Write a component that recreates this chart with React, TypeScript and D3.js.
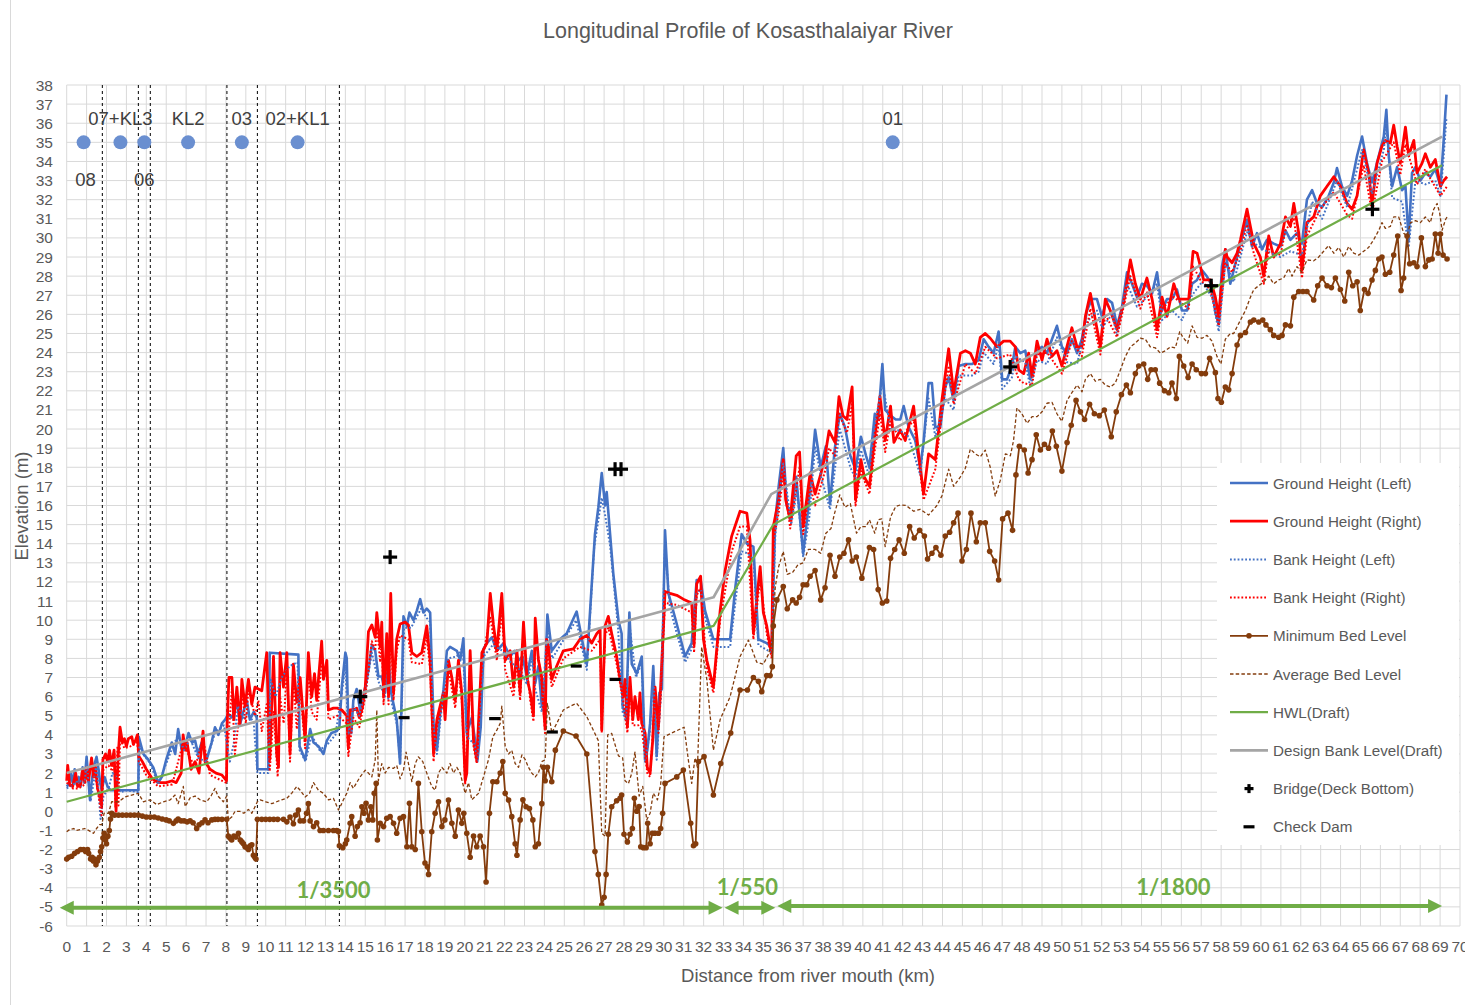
import React from "react";
import * as d3 from "d3";

type Pt = [number, number];

// chainage (km) / elevation (m) pairs
const groundLeft: Pt[] = [
  [0,1.3],[0.1,1.4],[0.2,2.0],[0.3,1.5],[0.4,2.2],[0.5,1.4],[0.6,1.8],[0.7,1.3],[0.8,2.3],[0.9,1.6],[1.0,2.85],[1.08,1.8],[1.17,0.6],[1.25,1.5],[1.35,2.3],[1.5,2.85],[1.6,2.2],[1.68,1.5],[1.76,1.1],[1.9,1.8],[2.05,1.3],[2.2,1.1],[3.6,1.1],[3.62,3.9],[3.85,3.0],[4.1,2.7],[4.35,2.3],[4.6,1.5],[4.78,1.8],[5.0,2.7],[5.28,3.6],[5.45,3.0],[5.6,4.3],[5.78,3.2],[5.95,3.4],[6.12,4.1],[6.3,3.6],[6.45,3.7],[6.6,3.0],[6.78,3.6],[7.03,2.7],[7.28,3.6],[7.45,4.4],[7.62,4.0],[7.8,4.6],[7.96,4.8],[8.12,5.1],[8.3,4.9],[8.55,5.65],[8.72,4.6],[8.9,5.3],[9.05,5.8],[9.2,4.8],[9.4,5.2],[9.55,4.9],[9.58,2.2],[10.13,2.2],[10.2,8.3],[11.64,8.2],[11.7,3.4],[11.98,2.7],[12.23,4.3],[12.4,3.6],[12.65,3.4],[12.9,3.0],[13.07,3.7],[13.3,4.1],[13.57,4.2],[13.7,4.4],[13.82,6.5],[14.0,8.3],[14.07,8.0],[14.15,4.3],[14.3,4.1],[14.4,5.8],[14.57,6.4],[14.74,5.3],[15.0,6.5],[15.16,7.4],[15.33,8.7],[15.5,8.4],[15.66,7.05],[15.83,7.05],[16.0,6.2],[16.17,7.9],[16.3,6.2],[16.58,4.8],[16.75,2.5],[16.92,10.2],[17.09,9.7],[17.22,10.4],[17.42,10.0],[17.59,10.5],[17.76,11.1],[17.92,10.4],[18.09,10.6],[18.26,10.4],[18.43,4.6],[18.6,3.2],[18.76,5.1],[18.93,6.35],[19.1,8.4],[19.26,8.6],[19.6,8.4],[19.77,7.9],[19.93,9.05],[20.1,4.1],[20.35,4.9],[20.52,3.7],[20.64,2.7],[20.8,4.4],[20.94,8.5],[21.11,8.8],[21.36,9.1],[21.61,8.4],[21.95,8.8],[22.28,8.1],[22.5,8.4],[22.7,7.9],[22.9,8.1],[23.12,7.05],[23.37,8.4],[23.54,6.7],[23.7,7.6],[23.87,5.5],[24.04,7.05],[24.15,10.3],[24.37,8.4],[24.79,9.0],[25.12,9.3],[25.62,10.45],[26.13,7.7],[26.38,11.9],[26.54,14.5],[26.71,15.9],[26.88,17.7],[27.05,16.0],[27.13,16.7],[27.3,14.5],[27.46,12.45],[27.72,10.0],[27.88,9.3],[27.93,5.5],[28.1,4.95],[28.27,10.4],[28.39,7.7],[28.64,7.2],[28.89,8.1],[29.06,2.7],[29.17,3.2],[29.31,4.6],[29.47,7.6],[29.64,2.9],[29.78,6.2],[29.9,6.4],[30.06,14.7],[30.23,11.4],[30.65,9.8],[31.07,8.1],[31.4,8.8],[31.65,12.1],[31.85,12.1],[32.07,10.5],[32.49,9.0],[33.33,9.0],[33.58,11.6],[33.91,14.5],[34.17,14.0],[34.5,13.85],[34.75,9.0],[35.17,8.8],[35.42,8.6],[35.59,15.1],[35.77,17.0],[36.0,19.0],[36.18,16.0],[36.39,15.4],[36.65,17.5],[37.0,13.5],[37.26,15.9],[37.6,19.96],[37.88,18.0],[38.14,19.1],[38.35,16.1],[38.58,18.9],[38.84,20.8],[39.1,20.1],[39.37,18.6],[39.63,17.9],[39.9,19.6],[40.16,18.6],[40.33,18.0],[40.6,20.8],[40.77,20.5],[40.98,23.4],[41.12,21.0],[41.39,20.7],[41.65,20.5],[41.88,20.5],[42.05,21.2],[42.3,20.1],[42.63,19.4],[42.88,18.0],[43.05,19.3],[43.3,22.4],[43.47,22.4],[43.64,20.1],[43.89,20.1],[44.14,22.2],[44.31,22.7],[44.56,21.5],[44.81,23.3],[45.15,23.4],[45.48,23.4],[45.82,23.6],[46.07,24.7],[46.32,24.3],[46.57,23.97],[46.82,25.1],[47.0,22.6],[47.24,22.6],[47.49,23.3],[47.66,24.3],[47.91,23.97],[48.16,24.1],[48.41,22.6],[48.75,24.1],[49.0,24.3],[49.25,23.97],[49.5,24.7],[49.75,25.4],[50.0,24.3],[50.25,23.97],[50.5,24.7],[50.76,23.97],[51.0,24.7],[51.26,26.2],[51.51,26.8],[51.76,26.8],[52.01,25.9],[52.27,26.8],[52.52,26.6],[52.77,25.4],[53.02,26.4],[53.27,28.2],[53.52,27.6],[53.77,26.9],[54.02,27.6],[54.27,27.5],[54.53,27.1],[54.78,28.2],[55.03,26.2],[55.28,26.8],[55.53,26.8],[55.78,27.3],[56.03,26.2],[56.29,26.2],[56.54,27.6],[56.79,27.8],[57.04,28.3],[57.29,27.98],[57.54,27.5],[57.71,26.1],[57.88,25.5],[58.04,28.5],[58.21,29.4],[58.46,27.6],[58.63,28.3],[58.97,29.7],[59.3,30.95],[59.55,29.55],[59.8,30.25],[60.05,29.4],[60.3,29.9],[60.64,29.7],[60.98,29.55],[61.23,30.4],[61.48,29.9],[61.81,30.25],[62.06,29.7],[62.31,32.0],[62.57,32.5],[62.82,31.8],[63.07,31.6],[63.4,32.2],[63.66,32.9],[63.82,33.65],[64.07,32.7],[64.33,32.2],[64.58,33.0],[64.83,34.3],[65.08,35.3],[65.33,33.9],[65.58,32.9],[65.92,34.3],[66.17,35.3],[66.3,36.7],[66.42,34.3],[66.59,32.7],[66.84,33.7],[67.09,32.5],[67.26,32.7],[67.42,29.9],[67.59,33.4],[67.76,33.7],[68.01,33.0],[68.26,33.4],[68.51,33.2],[68.76,33.6],[69.02,32.7],[69.18,35.1],[69.32,37.5],
];

const groundRight: Pt[] = [
  [0,1.6],[0.05,2.4],[0.15,1.4],[0.3,1.3],[0.45,2.0],[0.55,1.3],[0.7,1.4],[0.8,2.2],[0.9,1.5],[1.0,2.3],[1.1,1.6],[1.25,2.8],[1.35,1.8],[1.45,2.3],[1.55,1.2],[1.65,0.8],[1.75,0.3],[1.82,2.7],[1.95,3.0],[2.05,2.6],[2.15,3.2],[2.25,2.4],[2.38,3.2],[2.48,0.0],[2.58,2.8],[2.68,4.4],[2.8,3.6],[2.9,3.8],[3.0,3.4],[3.1,3.8],[3.27,3.9],[3.35,3.5],[3.45,3.7],[3.55,4.0],[3.62,2.9],[3.8,2.6],[4.0,2.2],[4.3,1.7],[4.6,1.5],[5.0,1.5],[5.3,1.6],[5.5,1.5],[5.75,2.0],[5.85,4.0],[5.95,3.2],[6.05,3.6],[6.25,2.2],[6.45,2.6],[6.65,2.0],[6.85,4.2],[6.95,2.6],[7.2,2.2],[7.5,2.0],[7.8,1.9],[8.03,1.6],
  [8.06,4.5],[8.15,7.0],[8.3,7.0],[8.4,4.8],[8.55,6.5],[8.7,4.5],[8.8,6.9],[8.96,5.5],[9.13,6.9],[9.3,5.6],[9.46,6.5],[9.63,6.4],[9.8,6.3],[10.05,8.3],[10.2,2.7],[10.39,8.1],[10.55,3.0],[10.64,2.3],[10.72,8.3],[10.89,6.5],[11.06,8.3],[11.22,3.0],[11.39,7.7],[11.56,5.7],[11.73,7.0],[11.98,3.7],[12.14,8.3],[12.31,6.0],[12.45,7.2],[12.56,5.8],[12.81,8.9],[12.9,6.9],[13.07,7.9],[13.15,5.3],[13.4,5.4],[13.6,5.4],[13.82,5.3],[14.07,5.0],[14.15,3.3],[14.24,5.3],[14.4,5.3],[14.57,5.4],[14.7,4.9],[14.85,5.4],
  [15.0,6.5],[15.16,9.4],[15.33,9.75],[15.5,9.1],[15.58,10.4],[15.75,8.6],[15.83,9.9],[15.92,6.0],[16.08,9.3],[16.17,6.0],[16.28,11.4],[16.42,6.2],[16.58,9.0],[16.75,9.8],[17.0,9.9],[17.17,9.75],[17.34,8.3],[17.59,8.1],[17.84,8.3],[18.09,9.7],[18.26,7.9],[18.43,3.0],[18.6,4.8],[18.76,5.5],[18.93,6.2],[19.01,4.8],[19.18,7.9],[19.35,7.0],[19.52,5.8],[19.68,7.9],[19.85,6.2],[20.02,1.6],[20.1,2.0],[20.27,8.4],[20.44,3.7],[20.6,2.7],[20.86,8.3],[21.11,8.8],[21.28,11.4],[21.44,9.75],[21.61,8.4],[21.86,11.4],[22.03,7.9],[22.28,8.4],[22.45,6.5],[22.62,8.4],[22.78,6.2],[22.95,9.9],[23.12,7.0],[23.29,6.2],[23.45,5.0],[23.54,10.1],[23.7,7.9],[23.87,7.0],[23.95,5.5],[24.04,4.3],[24.11,9.0],[24.21,8.6],[24.37,6.9],[24.62,7.6],[24.95,8.4],[25.46,8.5],[25.79,9.0],[26.13,9.2],[26.38,8.8],[26.63,9.3],[26.8,9.5],[26.88,4.25],[27.05,9.7],[27.21,10.2],[27.38,9.3],[27.63,8.1],[27.8,6.9],[27.97,6.0],[28.05,6.9],[28.17,4.4],[28.3,7.0],[28.44,4.8],[28.55,6.0],[28.72,4.8],[28.8,6.2],[28.89,4.6],[29.06,4.1],[29.17,2.3],[29.31,2.0],[29.44,3.7],[29.56,6.5],[29.73,4.4],[29.84,6.5],[30.06,11.5],[30.31,11.4],[30.65,11.3],[30.98,11.1],[31.4,10.9],[31.52,8.7],[31.65,11.9],[31.85,12.3],[31.99,9.0],[32.16,7.9],[32.49,6.5],[32.83,10.5],[33.08,12.6],[33.41,14.4],[33.83,15.7],[34.17,15.6],[34.33,14.2],[34.5,9.3],[34.67,11.1],[34.84,12.8],[35.0,10.4],[35.17,9.7],[35.34,8.6],[35.42,8.3],
  [35.5,14.9],[35.77,16.3],[36.0,18.4],[36.12,16.3],[36.35,15.25],[36.65,18.6],[36.82,18.8],[37.0,14.9],[37.35,17.7],[37.6,16.6],[37.9,17.7],[38.1,18.6],[38.3,19.9],[38.6,19.3],[38.8,21.7],[39.0,20.7],[39.2,20.5],[39.46,22.2],[39.63,16.3],[39.9,18.4],[40.07,17.5],[40.33,17.0],[40.6,19.6],[40.86,21.7],[41.12,19.4],[41.39,21.2],[41.56,19.3],[41.88,19.95],[42.13,19.4],[42.55,21.2],[42.8,18.7],[43.05,16.6],[43.3,18.7],[43.64,18.4],[43.97,21.5],[44.31,24.2],[44.56,21.9],[44.9,23.97],[45.15,24.1],[45.4,23.97],[45.65,23.4],[45.9,24.8],[46.15,25.0],[46.4,24.75],[46.74,24.3],[47.07,24.6],[47.4,24.6],[47.66,24.3],[47.83,23.1],[48.08,22.9],[48.33,23.97],[48.5,22.75],[48.75,24.6],[49.0,23.6],[49.25,24.7],[49.5,23.8],[49.75,24.1],[50.0,23.3],[50.25,24.3],[50.5,25.3],[50.76,24.3],[51.0,24.3],[51.18,25.9],[51.43,27.1],[51.68,25.7],[51.93,24.3],[52.18,26.8],[52.43,26.2],[52.77,25.2],[53.1,26.6],[53.44,28.85],[53.69,27.6],[53.94,26.8],[54.27,27.9],[54.53,26.8],[54.78,25.2],[55.03,26.9],[55.28,25.9],[55.62,27.6],[55.87,26.8],[56.12,26.8],[56.37,26.8],[56.59,29.3],[56.79,29.2],[56.96,28.5],[57.12,27.8],[57.46,27.8],[57.71,26.9],[57.88,25.9],[58.04,27.8],[58.21,29.4],[58.3,29.0],[58.55,28.7],[58.8,29.2],[58.97,29.9],[59.3,31.5],[59.47,30.6],[59.64,29.7],[59.97,29.0],[60.14,28.0],[60.39,30.1],[60.64,29.0],[60.98,29.7],[61.23,31.1],[61.48,30.6],[61.65,31.8],[61.9,30.25],[62.06,28.3],[62.31,30.8],[62.65,31.1],[62.98,32.2],[63.32,32.7],[63.66,33.2],[63.99,32.7],[64.33,31.8],[64.58,31.5],[64.83,32.2],[65.16,34.6],[65.41,33.4],[65.58,31.8],[65.83,33.9],[66.08,34.8],[66.25,35.1],[66.5,34.96],[66.67,35.9],[66.84,34.8],[67.0,33.9],[67.26,35.8],[67.42,34.3],[67.68,35.1],[67.84,33.4],[68.09,33.9],[68.26,34.4],[68.51,33.7],[68.76,34.1],[69.02,32.7],[69.18,33.0],[69.35,33.2],
];

const bankLeft: Pt[] = [
  [0,1.2],[0.3,1.4],[0.6,1.6],[0.9,1.5],[1.0,2.5],[1.2,0.5],[1.5,2.5],[1.7,-0.4],[1.85,0.8],[2.1,1.2],[2.3,2.0],[2.5,1.8],[2.7,1.0],[3.0,1.1],[3.6,1.0],[3.65,3.4],[3.9,2.9],[4.2,2.5],[4.6,1.4],[5.0,2.5],[5.3,3.3],[5.6,4.0],[5.9,3.2],[6.2,3.8],[6.6,2.8],[7.0,2.6],[7.45,4.1],[7.9,4.5],[8.2,2.6],[8.4,3.6],[8.6,5.5],[8.9,4.8],[9.1,5.2],[9.4,4.6],[9.58,2.0],[10.13,2.0],[10.25,6.9],[10.5,6.0],[10.8,7.0],[11.2,7.6],[11.6,7.8],[11.7,3.2],[12.0,2.6],[12.3,4.0],[12.7,3.2],[13.1,3.5],[13.5,4.0],[13.8,6.0],[14.0,7.6],[14.15,4.0],[14.4,5.5],[14.7,5.0],[15.0,6.2],[15.33,8.3],[15.66,6.8],[16.0,6.0],[16.3,5.8],[16.6,4.5],[16.75,2.6],[16.95,9.6],[17.3,9.6],[17.6,10.2],[17.8,10.6],[18.1,10.1],[18.26,9.9],[18.43,4.4],[18.6,3.0],[18.9,6.0],[19.15,8.0],[19.6,8.1],[19.9,8.6],[20.1,3.9],[20.5,3.5],[20.64,2.6],[20.95,8.1],[21.4,8.7],[21.9,8.4],[22.3,7.8],[22.7,7.5],[23.1,6.7],[23.4,8.0],[23.54,6.4],[23.87,5.2],[24.15,9.6],[24.4,8.0],[24.8,8.7],[25.6,10.0],[26.13,7.4],[26.5,13.8],[26.88,16.4],[27.05,15.5],[27.3,13.9],[27.7,9.6],[27.93,5.2],[28.1,4.7],[28.27,9.8],[28.6,7.0],[28.89,7.8],[29.06,2.5],[29.3,4.2],[29.47,7.2],[29.64,2.7],[29.85,6.0],[30.06,14.0],[30.3,10.7],[30.65,9.3],[31.07,7.8],[31.4,8.5],[31.65,11.4],[31.85,11.6],[32.1,10.0],[32.5,8.6],[33.33,8.6],[33.6,11.0],[33.91,13.6],[34.2,13.5],[34.5,13.2],[34.75,8.7],[35.42,8.3],[35.6,14.4],[35.8,16.4],[36.0,18.2],[36.4,15.0],[36.7,16.8],[37.0,13.3],[37.3,15.3],[37.6,19.1],[37.9,17.5],[38.35,15.8],[38.84,20.0],[39.37,18.0],[39.63,17.4],[39.9,18.9],[40.3,17.6],[40.6,20.2],[40.98,22.4],[41.4,20.0],[41.9,19.9],[42.3,19.6],[42.88,17.6],[43.3,21.6],[43.64,19.6],[44.14,21.6],[44.56,21.0],[44.81,22.8],[45.48,22.8],[45.82,23.0],[46.07,24.0],[46.57,23.4],[46.82,24.5],[47.0,22.1],[47.49,22.7],[47.66,23.8],[48.16,23.5],[48.41,22.2],[48.75,23.6],[49.25,23.4],[49.75,24.8],[50.25,23.5],[50.76,23.4],[51.26,25.6],[51.76,26.2],[52.01,25.3],[52.52,26.0],[52.77,24.9],[53.27,27.6],[53.77,26.4],[54.27,26.9],[54.78,27.6],[55.03,25.7],[55.53,26.2],[56.03,25.7],[56.54,27.0],[57.04,27.7],[57.54,26.9],[57.88,25.1],[58.21,28.7],[58.63,27.7],[59.3,30.3],[59.8,29.6],[60.3,29.3],[60.98,29.0],[61.48,29.3],[62.06,29.1],[62.57,31.9],[63.07,31.0],[63.82,33.0],[64.33,31.6],[64.83,33.6],[65.08,34.6],[65.58,32.3],[66.17,34.6],[66.3,35.8],[66.59,32.1],[67.09,31.9],[67.42,29.5],[67.76,33.0],[68.26,32.8],[68.76,33.0],[69.02,32.2],[69.18,34.3],[69.32,36.3],
];

const bankRight: Pt[] = [
  [0,1.5],[0.3,1.2],[0.6,1.2],[0.9,1.4],[1.25,2.5],[1.5,1.5],[1.65,0.5],[1.75,-0.2],[1.85,2.2],[2.1,2.4],[2.3,2.1],[2.4,3.0],[2.45,0.2],[2.55,3.4],[2.6,0.3],[2.68,3.8],[2.9,3.3],[3.2,3.4],[3.55,3.6],[3.62,2.6],[4.0,1.9],[4.6,1.3],[5.3,1.4],[5.85,3.6],[6.05,3.1],[6.45,2.3],[6.85,3.8],[7.2,1.9],[8.0,1.5],[8.1,3.5],[8.3,6.4],[8.45,3.0],[8.8,6.2],[9.0,4.6],[9.13,6.4],[9.46,5.0],[9.63,5.8],[9.8,4.2],[10.05,5.6],[10.2,2.1],[10.4,5.2],[10.6,1.8],[10.72,6.0],[10.9,4.6],[11.06,7.4],[11.22,2.6],[11.39,7.0],[11.56,4.3],[11.73,6.4],[11.98,3.3],[12.14,7.6],[12.31,5.2],[12.56,4.8],[12.81,7.8],[13.07,7.0],[13.15,4.8],[13.6,5.0],[14.07,4.6],[14.15,2.9],[14.4,4.9],[14.7,4.4],[15.0,6.0],[15.33,8.9],[15.5,8.4],[15.58,9.8],[15.75,7.8],[15.83,9.2],[15.92,5.6],[16.08,8.5],[16.17,5.6],[16.28,10.0],[16.42,5.8],[16.58,8.4],[16.75,9.2],[17.17,9.0],[17.34,7.8],[17.84,7.7],[18.09,9.1],[18.26,7.4],[18.43,2.6],[18.6,4.4],[18.93,5.8],[19.18,7.4],[19.52,5.4],[19.68,7.4],[19.85,5.8],[20.02,1.4],[20.27,7.8],[20.44,3.4],[20.6,2.5],[20.86,7.8],[21.28,10.2],[21.61,7.9],[21.86,10.5],[22.03,7.4],[22.45,6.0],[22.62,7.8],[22.78,5.8],[22.95,9.2],[23.29,5.8],[23.45,4.7],[23.54,9.4],[23.87,6.6],[24.04,4.0],[24.11,8.5],[24.37,6.5],[24.95,8.0],[25.79,8.6],[26.38,8.4],[26.8,9.0],[26.88,4.1],[27.05,9.2],[27.21,9.6],[27.63,7.7],[27.97,5.7],[28.17,4.1],[28.3,6.6],[28.44,4.5],[28.72,4.5],[28.89,4.3],[29.17,2.0],[29.31,1.8],[29.56,6.0],[29.73,4.1],[29.84,6.1],[30.06,10.9],[30.65,10.8],[31.4,10.4],[31.52,8.3],[31.65,11.3],[31.85,11.7],[32.16,7.5],[32.49,6.2],[32.83,10.0],[33.41,13.6],[33.83,14.9],[34.17,14.9],[34.5,9.0],[34.84,12.2],[35.17,9.3],[35.42,8.0],[35.5,14.2],[35.77,15.6],[36.0,17.6],[36.35,14.8],[36.82,18.0],[37.0,14.5],[37.35,17.0],[37.6,16.0],[38.1,17.8],[38.3,19.0],[38.6,18.6],[38.8,20.8],[39.2,19.8],[39.46,21.3],[39.63,16.0],[39.9,17.8],[40.33,16.6],[40.6,18.9],[40.86,20.8],[41.12,18.8],[41.39,20.4],[41.88,19.4],[42.55,20.5],[43.05,16.3],[43.64,17.9],[43.97,20.8],[44.31,23.3],[44.56,21.3],[45.15,23.4],[45.65,22.9],[46.15,24.3],[46.74,23.7],[47.4,23.9],[47.83,22.6],[48.08,22.4],[48.5,22.3],[48.75,23.9],[49.25,24.0],[50.0,22.9],[50.5,24.6],[51.0,23.8],[51.43,26.3],[51.93,23.9],[52.18,26.0],[52.77,24.8],[53.44,28.0],[53.94,26.3],[54.27,27.2],[54.78,24.8],[55.03,26.3],[55.62,26.9],[56.37,26.3],[56.59,28.5],[56.96,27.8],[57.46,27.3],[57.88,25.4],[58.21,28.7],[58.55,28.2],[58.97,29.3],[59.3,30.7],[59.64,29.2],[60.14,27.6],[60.39,29.4],[60.98,29.1],[61.23,30.4],[61.65,31.0],[62.06,27.9],[62.31,30.1],[62.98,31.5],[63.66,32.4],[64.33,31.2],[64.58,31.0],[65.16,33.8],[65.58,31.3],[66.08,34.0],[66.67,35.0],[67.0,33.3],[67.26,34.9],[67.84,32.8],[68.26,33.6],[68.51,33.1],[69.02,32.2],[69.35,32.7],
];

const minBed: Pt[] = [
  [0,-2.5],[0.1,-2.4],[0.25,-2.35],[0.4,-2.2],[0.55,-2.1],[0.7,-2.0],[0.85,-2.0],[0.95,-2.1],[1.05,-2.0],[1.1,-2.2],[1.2,-2.5],[1.28,-2.4],[1.34,-2.6],[1.4,-2.5],[1.47,-2.8],[1.55,-2.6],[1.64,-2.4],[1.7,-2.1],[1.76,-1.85],[1.82,-1.4],[1.88,-1.15],[1.95,-1.5],[2.0,-1.7],[2.07,-1.3],[2.14,-1.0],[2.2,-0.4],[2.26,-0.1],[2.4,-0.2],[2.6,-0.2],[2.8,-0.2],[3.0,-0.2],[3.2,-0.2],[3.4,-0.2],[3.6,-0.2],[3.8,-0.25],[4.0,-0.3],[4.2,-0.3],[4.4,-0.3],[4.6,-0.35],[4.8,-0.4],[5.0,-0.45],[5.15,-0.5],[5.36,-0.63],[5.5,-0.5],[5.6,-0.4],[5.75,-0.5],[5.9,-0.5],[6.05,-0.55],[6.2,-0.5],[6.35,-0.6],[6.53,-0.9],[6.65,-0.7],[6.8,-0.6],[6.95,-0.45],[7.1,-0.6],[7.29,-0.45],[7.45,-0.42],[7.6,-0.42],[7.8,-0.42],[8.04,-0.42],[8.12,-1.3],[8.2,-1.4],[8.29,-1.5],[8.4,-1.3],[8.5,-1.35],[8.63,-1.15],[8.72,-1.5],[8.8,-1.6],[8.88,-1.7],[8.96,-1.85],[9.05,-1.9],[9.13,-2.0],[9.22,-1.8],[9.3,-1.75],[9.38,-2.3],[9.45,-2.4],[9.51,-2.5],[9.58,-0.42],[9.8,-0.42],[10.0,-0.42],[10.2,-0.42],[10.4,-0.42],[10.6,-0.42],[10.89,-0.42],[11.06,-0.55],[11.22,-0.3],[11.39,-0.65],[11.5,-0.2],[11.64,0.07],[11.73,-0.5],[11.9,-0.5],[12.05,-0.1],[12.14,0.4],[12.23,-0.5],[12.4,-0.8],[12.56,-0.6],[12.73,-1.0],[12.9,-1.0],[13.15,-1.0],[13.4,-1.0],[13.57,-1.0],[13.65,-1.05],[13.7,-1.8],[13.87,-1.9],[14.0,-1.7],[14.07,-1.5],[14.24,-0.63],[14.32,-0.28],[14.49,-1.3],[14.6,-0.8],[14.74,-0.6],[14.83,0.24],[14.94,-0.1],[15.04,0.42],[15.16,-0.45],[15.28,0.24],[15.38,-0.45],[15.45,0.94],[15.55,1.46],[15.61,-1.5],[15.75,-0.63],[15.92,-0.8],[16.08,-0.36],[16.25,-0.28],[16.42,-0.63],[16.58,-1.15],[16.75,-0.36],[16.92,-0.28],[17.09,-1.85],[17.22,0.42],[17.34,-1.85],[17.51,-2.0],[17.67,1.46],[17.84,-1.07],[18.0,-2.7],[18.12,-2.9],[18.18,-3.3],[18.34,-1.07],[18.51,-0.1],[18.68,0.5],[18.85,-0.8],[19.0,-0.45],[19.18,0.59],[19.35,-0.63],[19.52,-1.3],[19.68,0.07],[19.85,-0.63],[19.95,-0.1],[20.1,-1.15],[20.27,-2.4],[20.44,-1.3],[20.6,-1.85],[20.77,-1.3],[20.94,-1.85],[21.07,-3.7],[21.24,-0.1],[21.41,1.55],[21.61,1.55],[21.78,2.0],[21.91,2.6],[22.03,0.94],[22.2,0.59],[22.36,-0.28],[22.53,-1.7],[22.62,-2.3],[22.78,-0.45],[22.92,0.6],[23.08,0.24],[23.25,0.15],[23.42,-0.45],[23.54,-1.85],[23.7,-1.7],[23.87,0.4],[23.95,2.3],[24.04,1.6],[24.15,2.3],[24.37,1.55],[24.55,3.2],[24.95,4.2],[25.59,3.94],[26.13,3.0],[26.54,-2.1],[26.71,-3.3],[26.88,-4.9],[27.0,-4.5],[27.1,-3.3],[27.21,-1.2],[27.38,0.24],[27.63,0.55],[27.8,0.68],[27.88,0.85],[28.0,-1.2],[28.17,-1.6],[28.3,-1.2],[28.42,-0.9],[28.52,0.68],[28.64,0.0],[28.76,0.25],[28.84,-1.85],[28.97,-1.9],[29.11,-1.9],[29.19,-0.63],[29.31,-1.7],[29.42,-1.15],[29.55,-1.15],[29.73,-1.15],[29.84,-0.9],[29.94,-0.1],[30.06,1.46],[30.65,1.8],[30.98,2.16],[31.35,-0.63],[31.49,-1.8],[31.6,-1.7],[31.74,2.6],[32.02,2.86],[32.49,0.85],[32.86,2.5],[33.36,4.1],[33.83,6.35],[34.2,6.35],[34.5,7.0],[34.75,6.8],[34.92,6.26],[35.17,7.1],[35.34,7.1],[35.45,7.57],[35.5,9.7],[35.68,11.06],[36.0,11.76],[36.2,10.6],[36.47,11.06],[36.65,10.9],[36.82,11.2],[37.0,11.85],[37.18,11.85],[37.35,12.3],[37.6,12.6],[37.88,11.06],[38.1,11.7],[38.35,13.4],[38.6,12.3],[38.84,13.3],[39.05,13.5],[39.28,14.2],[39.46,13.1],[39.67,13.3],[39.95,12.2],[40.33,13.8],[40.54,13.7],[40.77,11.6],[40.98,10.9],[41.2,11.0],[41.39,13.24],[41.6,13.7],[41.82,14.2],[42.08,13.5],[42.35,14.9],[42.58,14.3],[42.85,14.7],[43.09,14.4],[43.25,13.2],[43.47,13.5],[43.67,13.8],[43.92,13.4],[44.14,14.4],[44.36,14.6],[44.56,15.1],[44.78,15.6],[44.98,13.1],[45.2,13.7],[45.43,15.6],[45.7,14.1],[45.9,15.1],[46.15,15.1],[46.37,13.6],[46.62,13.1],[46.82,12.1],[47.02,15.3],[47.29,15.6],[47.52,14.7],[47.69,17.6],[47.86,19.1],[48.11,18.9],[48.3,17.7],[48.5,18.4],[48.71,19.7],[48.92,18.9],[49.12,19.2],[49.33,19.0],[49.52,19.9],[49.72,19.1],[50.0,17.8],[50.26,19.3],[50.47,20.2],[50.71,21.5],[50.93,20.9],[51.14,20.5],[51.39,21.3],[51.63,20.8],[51.88,20.7],[52.13,21.0],[52.48,19.6],[52.73,20.9],[52.99,21.8],[53.24,22.3],[53.44,21.9],[53.69,22.9],[53.86,23.3],[54.11,23.4],[54.31,22.6],[54.48,23.1],[54.69,23.1],[54.91,22.4],[55.15,22.0],[55.37,21.9],[55.53,22.4],[55.75,21.6],[55.9,23.8],[56.12,23.3],[56.34,22.7],[56.54,23.4],[56.75,23.1],[57.01,22.9],[57.21,22.9],[57.42,23.7],[57.71,22.95],[57.84,21.6],[58.01,21.4],[58.21,22.2],[58.38,22.05],[58.55,22.9],[58.8,24.4],[58.97,24.9],[59.22,25.05],[59.47,25.6],[59.64,25.7],[59.89,25.6],[60.09,25.7],[60.25,25.45],[60.47,25.2],[60.64,24.9],[60.89,24.8],[61.06,24.9],[61.23,25.45],[61.48,25.4],[61.65,26.9],[61.9,27.2],[62.11,27.2],[62.31,27.2],[62.65,26.75],[62.85,27.5],[63.07,27.9],[63.32,27.5],[63.54,27.4],[63.74,27.9],[63.99,27.3],[64.21,26.7],[64.41,28.2],[64.61,27.5],[64.83,27.7],[64.99,26.2],[65.2,27.3],[65.38,27.1],[65.58,27.8],[65.75,28.3],[65.92,28.9],[66.08,29.0],[66.25,28.1],[66.47,28.2],[66.67,29.1],[66.87,30.1],[67.04,27.25],[67.17,27.9],[67.34,30.1],[67.47,28.65],[67.68,28.7],[67.84,28.5],[68.06,30.0],[68.26,28.5],[68.43,28.85],[68.6,28.9],[68.76,30.2],[68.9,29.2],[69.02,30.2],[69.15,29.1],[69.35,28.9],
];

const avgBed: Pt[] = [
  [0,-1.07],[0.15,-0.95],[0.35,-0.9],[0.5,-1.0],[0.7,-0.95],[0.9,-0.9],[1.1,-1.0],[1.34,-1.15],[1.5,-0.9],[1.65,-0.7],[1.76,-0.7],[1.88,-0.1],[2.1,-0.1],[2.26,0.5],[2.6,0.5],[2.93,0.75],[3.27,0.85],[3.6,0.94],[3.85,0.5],[4.2,0.6],[4.52,0.35],[4.86,0.5],[5.2,0.6],[5.44,0.85],[5.6,0.4],[5.86,1.3],[5.95,0.25],[6.2,0.7],[6.45,0.8],[6.7,0.6],[7.03,0.5],[7.25,0.8],[7.45,1.2],[7.6,0.8],[7.87,0.5],[8.04,0.8],[8.12,-0.45],[8.29,-0.3],[8.46,0.0],[8.7,0.0],[8.9,-0.1],[9.13,0.1],[9.3,-0.1],[9.46,0.24],[9.58,0.5],[9.72,0.6],[10.0,0.5],[10.3,0.4],[10.55,0.5],[10.8,0.6],[11.06,0.68],[11.3,0.94],[11.56,1.3],[11.73,1.1],[11.98,0.75],[12.2,0.94],[12.4,1.5],[12.65,1.1],[12.9,0.94],[13.15,0.6],[13.4,0.68],[13.65,0.07],[13.75,0.25],[13.9,0.6],[14.07,0.94],[14.24,1.5],[14.4,1.2],[14.57,1.5],[14.74,1.8],[15.0,2.15],[15.16,2.0],[15.33,1.8],[15.5,2.7],[15.58,5.3],[15.66,1.6],[15.83,2.5],[16.0,2.0],[16.17,2.3],[16.42,2.25],[16.58,2.4],[16.75,1.7],[16.92,2.15],[17.05,3.1],[17.17,2.5],[17.34,1.55],[17.51,2.5],[17.67,2.85],[17.89,2.6],[18.09,2.0],[18.34,1.3],[18.51,1.1],[18.68,2.0],[18.85,2.3],[19.1,2.0],[19.26,2.5],[19.43,2.0],[19.6,2.3],[19.77,2.0],[20.02,0.94],[20.19,1.5],[20.35,0.6],[20.52,0.77],[20.69,0.94],[20.94,1.8],[21.19,2.7],[21.41,3.9],[21.61,4.25],[21.78,4.6],[21.86,5.5],[22.03,3.4],[22.2,3.0],[22.36,3.2],[22.53,2.5],[22.7,2.3],[22.87,2.95],[23.04,2.7],[23.2,2.3],[23.37,2.0],[23.54,1.8],[23.7,2.0],[23.87,2.6],[24.04,2.7],[24.15,5.65],[24.37,4.1],[24.62,4.6],[24.95,5.3],[25.3,5.5],[25.62,5.65],[26.13,4.95],[26.71,3.7],[26.88,-1.15],[27.05,-1.3],[27.18,4.0],[27.38,4.08],[27.72,2.9],[27.93,2.8],[28.05,1.6],[28.22,1.45],[28.39,2.0],[28.55,3.1],[28.76,0.8],[28.94,1.3],[29.14,-0.45],[29.31,-0.1],[29.47,0.95],[29.68,0.6],[29.84,1.4],[30.01,3.9],[30.4,4.1],[31.02,4.4],[31.23,2.7],[31.4,1.46],[31.57,2.8],[31.69,2.3],[31.9,8.6],[32.16,6.9],[32.49,3.2],[32.83,4.8],[33.33,6.0],[33.83,8.1],[34.25,8.96],[34.67,7.8],[35.0,7.7],[35.25,8.2],[35.42,8.8],[35.6,11.76],[35.77,12.8],[36.0,13.6],[36.2,12.4],[36.47,12.5],[36.74,12.9],[37.0,13.0],[37.26,13.7],[37.6,13.7],[37.88,13.5],[38.14,14.55],[38.4,14.8],[38.58,15.6],[38.84,16.56],[39.1,15.9],[39.37,16.1],[39.68,14.55],[39.9,14.9],[40.16,14.9],[40.33,15.25],[40.6,14.55],[40.77,15.25],[40.95,15.3],[41.12,13.85],[41.39,15.4],[41.65,15.95],[41.88,16.03],[42.17,16.0],[42.55,15.7],[42.88,15.8],[43.3,15.5],[43.72,16.0],[43.97,16.5],[44.31,17.9],[44.56,17.0],[44.9,17.5],[45.15,17.95],[45.4,18.95],[45.65,18.7],[45.9,18.55],[46.15,18.9],[46.4,18.0],[46.65,16.5],[46.9,17.3],[47.16,18.7],[47.41,18.6],[47.57,19.4],[47.74,21.1],[47.99,20.8],[48.25,20.3],[48.5,20.65],[48.75,20.65],[49.0,20.9],[49.25,21.35],[49.5,21.4],[49.75,20.8],[50.0,20.4],[50.26,21.5],[50.5,21.9],[50.76,22.3],[51.01,21.95],[51.18,22.6],[51.43,22.9],[51.68,22.5],[51.93,22.6],[52.18,22.3],[52.43,22.2],[52.68,22.4],[52.94,23.1],[53.19,23.8],[53.44,24.3],[53.69,24.5],[53.94,24.75],[54.19,24.7],[54.44,24.3],[54.69,24.25],[54.95,23.97],[55.2,24.1],[55.45,24.3],[55.7,24.25],[55.92,25.1],[56.08,24.8],[56.32,24.5],[56.54,25.4],[56.79,24.8],[57.04,24.75],[57.29,24.9],[57.54,24.6],[57.79,23.8],[57.99,23.4],[58.21,24.7],[58.46,25.0],[58.63,25.0],[58.97,25.7],[59.22,26.2],[59.47,26.9],[59.64,27.3],[59.89,27.5],[60.14,27.7],[60.39,28.0],[60.64,27.6],[60.89,27.8],[61.14,27.9],[61.39,28.4],[61.56,28.0],[61.81,28.5],[62.06,28.2],[62.31,28.85],[62.65,28.8],[62.9,29.0],[63.15,29.3],[63.4,29.6],[63.66,29.2],[63.91,29.5],[64.16,29.0],[64.41,29.55],[64.66,29.2],[64.91,29.1],[65.16,29.3],[65.41,29.5],[65.66,29.9],[65.92,30.4],[66.08,30.8],[66.25,30.5],[66.5,30.6],[66.67,31.1],[66.92,31.1],[67.17,30.25],[67.34,30.1],[67.51,30.8],[67.76,30.9],[68.01,30.8],[68.26,31.1],[68.51,30.8],[68.68,31.5],[68.85,31.8],[68.98,31.3],[69.1,30.4],[69.27,30.95],[69.35,31.1],
];

const hwl: Pt[] = [[0,0.5],[32.5,9.7],[35.5,15.0],[69.1,33.8]];
const designBank: Pt[] = [[0,2.0],[32.5,11.2],[35.4,16.6],[69.1,35.3]];

const bridges: Pt[] = [[14.75,6.0],[16.25,13.3],[27.55,17.9],[27.85,17.9],[47.4,23.25],[57.5,27.5],[65.6,31.5]];
const checkDams: Pt[] = [[16.95,4.9],[21.5,4.85],[24.4,4.15],[25.6,7.6],[27.55,6.9]];

// gauge / reach sites shown as dots at 35 m
const siteNames = ["08", "07+KL3", "06", "KL2", "03", "02+KL1", "01"];
const siteKm = [0.85, 2.7, 3.9, 6.1, 8.8, 11.6, 41.5];
const siteLabelBelow = [true, false, true, false, false, false, false];
const siteLevel = 35;

const reachBreaksKm = [1.79, 3.6, 4.2, 8.05, 9.58, 13.7];

const slopeLabels = ["1/3500", "1/550", "1/1800"];
const slopeFrom = [-0.35, 33.05, 35.7];
const slopeTo = [32.95, 35.6, 69.1];
const slopeLevel = [-5.05, -5.05, -4.95];
const slopeLabelKm = [13.4, 34.2, 55.6];
const slopeLabelLevel = [-4.1, -3.95, -3.95];

const legendNames = [
  "Ground Height (Left)",
  "Ground Height (Right)",
  "Bank Height (Left)",
  "Bank Height (Right)",
  "Minimum Bed Level",
  "Average Bed Level",
  "HWL(Draft)",
  "Design Bank Level(Draft)",
  "Bridge(Deck Bottom)",
  "Check Dam",
];

const W = 1465;
const H = 1005;
const FONT = "'Liberation Sans', Arial, sans-serif";
const TXT = "#595959";
const GREEN = "#70ad47";
const BROWN = "#843c0c";

const x = d3.scaleLinear().domain([0, 70]).range([66.7, 1460]);
const y = d3.scaleLinear().domain([-6, 38]).range([926, 85]);
const line = d3.line<Pt>().x((d) => x(d[0])).y((d) => y(d[1]));

const styles = [
  { stroke: "#4472c4", width: 2.6, dash: undefined as string | undefined },
  { stroke: "#ff0000", width: 2.8, dash: undefined as string | undefined },
  { stroke: "#4472c4", width: 2, dash: "1.8 2" },
  { stroke: "#ff0000", width: 2, dash: "1.8 2" },
  { stroke: BROWN, width: 1.8, dash: undefined as string | undefined },
  { stroke: BROWN, width: 1.3, dash: "3.5 2.2" },
  { stroke: GREEN, width: 2.2, dash: undefined as string | undefined },
  { stroke: "#a5a5a5", width: 2.6, dash: undefined as string | undefined },
];

function Plus({ cx, cy, s = 7 }: { cx: number; cy: number; s?: number }) {
  return (
    <g stroke="#000" strokeWidth={3.2}>
      <line x1={cx - s} x2={cx + s} y1={cy} y2={cy} />
      <line x1={cx} x2={cx} y1={cy - s} y2={cy + s} />
    </g>
  );
}

function Dash({ cx, cy }: { cx: number; cy: number }) {
  return <line x1={cx - 5.5} x2={cx + 5.5} y1={cy} y2={cy} stroke="#000" strokeWidth={3.2} />;
}

function Arrow({ x1, x2, yy }: { x1: number; x2: number; yy: number }) {
  const hl = 14;
  const hw = 7;
  return (
    <g fill={GREEN} stroke={GREEN}>
      <line x1={x1 + hl - 1} x2={x2 - hl + 1} y1={yy} y2={yy} strokeWidth={4} />
      <path d={`M${x1},${yy}L${x1 + hl},${yy - hw}L${x1 + hl},${yy + hw}Z`} stroke="none" />
      <path d={`M${x2},${yy}L${x2 - hl},${yy - hw}L${x2 - hl},${yy + hw}Z`} stroke="none" />
    </g>
  );
}

export default function App() {
  const series = [groundLeft, groundRight, bankLeft, bankRight, minBed, avgBed, hwl, designBank];
  const kmTicks = d3.range(0, 71);
  const elevTicks = d3.range(-6, 39);
  const legendTop = 483;
  const legendStep = 38.2;

  return (
    <svg width={W} height={H} style={{ position: "absolute", left: 0, top: 0, background: "#fff" }}>
      <rect width={W} height={H} fill="#fff" />
      <line x1={10.5} x2={10.5} y1={0} y2={H} stroke="#d9d9d9" />

      <text x={748} y={38} textAnchor="middle" fontFamily={FONT} fontSize={21.5} fill={TXT}>
        Longitudinal Profile of Kosasthalaiyar River
      </text>

      {/* grid */}
      <g stroke="#d9d9d9" strokeWidth={1}>
        {kmTicks.map((k) => (
          <line key={`v${k}`} x1={x(k)} x2={x(k)} y1={y(38)} y2={y(-6)} />
        ))}
        {elevTicks.map((v) => (
          <line key={`h${v}`} x1={x(0)} x2={x(70)} y1={y(v)} y2={y(v)} />
        ))}
      </g>

      {/* tick labels */}
      <g fontFamily={FONT} fontSize={15.5} fill={TXT}>
        {elevTicks.map((v) => (
          <text key={`yl${v}`} x={53} y={y(v)} textAnchor="end" dominantBaseline="central">
            {v}
          </text>
        ))}
        {kmTicks.map((k) => (
          <text key={`xl${k}`} x={x(k)} y={946} textAnchor="middle" dominantBaseline="central">
            {k}
          </text>
        ))}
      </g>
      <text x={808} y={982} textAnchor="middle" fontFamily={FONT} fontSize={18.5} fill={TXT}>
        Distance from river mouth (km)
      </text>
      <text
        transform={`translate(28,506) rotate(-90)`}
        textAnchor="middle"
        fontFamily={FONT}
        fontSize={18.5}
        fill={TXT}
      >
        Elevation (m)
      </text>

      {/* reach breaks */}
      <g stroke="#000" strokeWidth={1} strokeDasharray="3 3">
        {reachBreaksKm.map((k) => (
          <line key={`rb${k}`} x1={x(k)} x2={x(k)} y1={y(38)} y2={y(-6)} />
        ))}
      </g>

      {/* sites */}
      {siteKm.map((k, i) => (
        <g key={`s${i}`}>
          <circle cx={x(k)} cy={y(siteLevel)} r={7} fill="#6a8fd0" />
          <text
            x={x(k) + (i === 0 ? 2 : 0)}
            y={siteLabelBelow[i] ? y(siteLevel) + 37 : y(siteLevel) - 24}
            textAnchor="middle"
            dominantBaseline="central"
            fontFamily={FONT}
            fontSize={18.5}
            fill="#404040"
          >
            {siteNames[i]}
          </text>
        </g>
      ))}

      {/* data series */}
      {series.map((s, i) => (
        <path
          key={`ser${i}`}
          d={line(s) || ""}
          fill="none"
          stroke={styles[i].stroke}
          strokeWidth={styles[i].width}
          strokeDasharray={styles[i].dash}
          strokeLinejoin="round"
        />
      ))}
      <g fill={BROWN}>
        {minBed.map((d, i) => (
          <circle key={`mb${i}`} cx={x(d[0])} cy={y(d[1])} r={2.8} />
        ))}
      </g>

      {bridges.map((d, i) => (
        <Plus key={`br${i}`} cx={x(d[0])} cy={y(d[1])} />
      ))}
      {checkDams.map((d, i) => (
        <Dash key={`cd${i}`} cx={x(d[0])} cy={y(d[1])} />
      ))}

      {/* slope arrows */}
      {slopeLabels.map((lab, i) => (
        <g key={`sl${i}`}>
          <Arrow x1={x(slopeFrom[i])} x2={x(slopeTo[i])} yy={y(slopeLevel[i])} />
          <text
            x={x(slopeLabelKm[i])}
            y={y(slopeLabelLevel[i])}
            textAnchor="middle"
            dominantBaseline="central"
            fontFamily="Lato, 'Liberation Sans', sans-serif"
            fontWeight="bold"
            fontSize={22}
            fill={GREEN}
          >
            {lab}
          </text>
        </g>
      ))}

      {/* legend */}
      <rect x={1217} y={463} width={242} height={382} fill="#fff" />
      {legendNames.map((name, i) => {
        const ly = legendTop + i * legendStep;
        const st = styles[i];
        return (
          <g key={`lg${i}`}>
            {i < 8 && (
              <line
                x1={1230}
                x2={1268}
                y1={ly}
                y2={ly}
                stroke={st.stroke}
                strokeWidth={st.width}
                strokeDasharray={st.dash}
              />
            )}
            {i === 4 && <circle cx={1249} cy={ly} r={2.8} fill={BROWN} />}
            {i === 8 && <Plus cx={1249} cy={ly} s={4.5} />}
            {i === 9 && <Dash cx={1249} cy={ly} />}
            <text x={1273} y={ly} dominantBaseline="central" fontFamily={FONT} fontSize={15.2} fill={TXT}>
              {name}
            </text>
          </g>
        );
      })}
    </svg>
  );
}
